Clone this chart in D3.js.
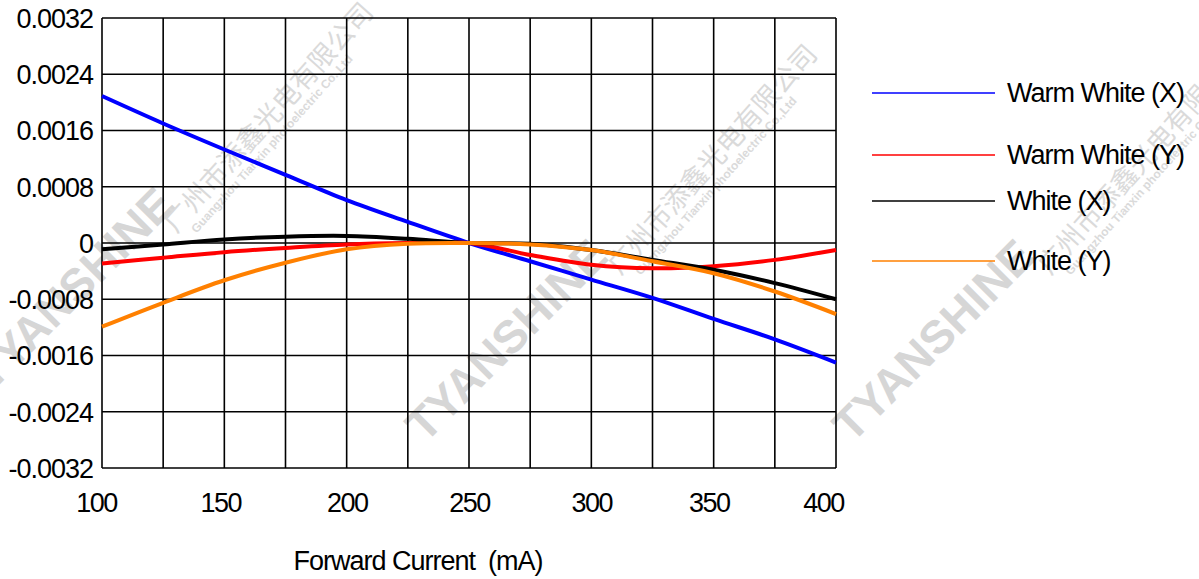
<!DOCTYPE html>
<html>
<head>
<meta charset="utf-8">
<script src="https://cdn.jsdelivr.net/npm/d3@7"></script>
<style>
  body { margin: 0; background: #fff; }
  text { font-family: "Liberation Sans", Arial, sans-serif; }
</style>
</head>
<body>
<div id="my_dataviz"></div>
<script>
// forward current (mA)
var currents = [100, 125, 150, 175, 200, 225, 250, 275, 300, 325, 350, 375, 400];
var xTicks = [100, 150, 200, 250, 300, 350, 400];
var yTicks = [0.0032, 0.0024, 0.0016, 0.0008, 0, -0.0008, -0.0016, -0.0024, -0.0032];
var yTickLabels = ["0.0032", "0.0024", "0.0016", "0.0008", "0", "-0.0008", "-0.0016", "-0.0024", "-0.0032"];

var warmWhiteX = [0.00209, 0.00170, 0.00133, 0.00097, 0.00061, 0.00030, 0, -0.00026, -0.00052, -0.00078, -0.00108, -0.00137, -0.00170];
var warmWhiteY = [-0.00029, -0.00021, -0.00013, -0.00007, -0.00002, 0.00000, 0, -0.00017, -0.00031, -0.00036, -0.00033, -0.00024, -0.00010];
var whiteX = [-0.00009, -0.00002, 0.00005, 0.00009, 0.00010, 0.00006, 0, -0.00001, -0.00010, -0.00024, -0.00038, -0.00057, -0.00080];
var whiteY = [-0.00119, -0.00085, -0.00053, -0.00028, -0.00009, -0.00001, 0, -0.00002, -0.00010, -0.00026, -0.00043, -0.00069, -0.00101];

var seriesNames = ["Warm White (X)", "Warm White (Y)", "White (X)", "White (Y)"];
var seriesColors = ["#0000ff", "#ff0000", "#000000", "#ff8000"];
var seriesValues = [warmWhiteX, warmWhiteY, whiteX, whiteY];
// legend rows (pixel y) as in the original
var legendY = [93, 155, 201, 261];
// small horizontal nudges of the x labels, as in the original
var xLabelShift = [-6, -4, 0, 0, 0, -5, -13];

var W = 1199, H = 579;
var plotLeft = 102, plotRight = 836, plotTop = 18, plotBottom = 468;

var svg = d3.select("#my_dataviz")
  .append("svg")
    .attr("width", W)
    .attr("height", H);

// watermarks (behind everything)
var wm = svg.append("g").attr("fill", "#d6d6d6");
[[ -8, 392], [425, 444], [852, 444]].forEach(function(p) {
  wm.append("text")
    .attr("transform", "translate(" + p[0] + "," + p[1] + ") rotate(-45)")
    .style("font-size", "46px")
    .style("font-weight", "bold")
    .text("TYANSHINE");
});
[[176, 234], [620, 276], [1050, 276]].forEach(function(p) {
  var g = wm.append("g")
    .attr("transform", "translate(" + p[0] + "," + p[1] + ") rotate(-48)");
  g.append("text")
    .style("font-family", "'Noto Sans CJK SC'")
    .style("font-size", "27px")
    .attr("fill", "#dadada")
    .text("广州市添鑫光电有限公司");
  g.append("text")
    .attr("x", 14)
    .attr("y", 15)
    .style("font-size", "12px")
    .style("font-weight", "bold")
    .attr("fill", "#dadada")
    .text("Guangzhou Tianxin photoelectric Co.,Ltd");
});

var x = d3.scaleLinear().domain([100, 400]).range([plotLeft, plotRight]);
var y = d3.scaleLinear().domain([-0.0032, 0.0032]).range([plotBottom, plotTop]);

// grid
var grid = svg.append("g").attr("stroke", "#000").attr("stroke-width", 1.6);
grid.selectAll("line.v")
  .data(currents)
  .enter()
  .append("line")
    .attr("x1", function(d) { return x(d); })
    .attr("x2", function(d) { return x(d); })
    .attr("y1", plotTop)
    .attr("y2", plotBottom);
grid.selectAll("line.h")
  .data(yTicks)
  .enter()
  .append("line")
    .attr("x1", plotLeft)
    .attr("x2", plotRight)
    .attr("y1", function(d) { return y(d); })
    .attr("y2", function(d) { return y(d); });

// Y axis labels
svg.append("g")
  .attr("transform", "translate(" + (plotLeft - 9) + ",0)")
  .call(d3.axisLeft(y).tickValues(yTicks).tickSize(0)
        .tickFormat(function(d, i) { return yTickLabels[i]; }))
  .call(function(g) { g.select(".domain").remove(); })
  .selectAll("text")
    .attr("x", 0)
    .attr("dy", "0.35em")
    .attr("font-family", null)
    .attr("font-size", null)
    .style("font-size", "27px")
    .style("letter-spacing", "-1px")
    .attr("fill", "#000");

// X axis labels
svg.append("g")
  .attr("transform", "translate(0," + plotBottom + ")")
  .call(d3.axisBottom(x).tickValues(xTicks).tickSize(0).tickFormat(d3.format("d")))
  .call(function(g) { g.select(".domain").remove(); })
  .selectAll("text")
    .attr("x", function(d, i) { return xLabelShift[i]; })
    .attr("y", 35)
    .attr("dy", "0.35em")
    .attr("font-family", null)
    .attr("font-size", null)
    .style("font-size", "27px")
    .style("letter-spacing", "-1.5px")
    .attr("fill", "#000");

// X axis title
svg.append("text")
  .attr("x", 418)
  .attr("y", 570)
  .attr("text-anchor", "middle")
  .style("font-size", "27px")
  .style("letter-spacing", "-1px")
  .style("white-space", "pre")
  .text("Forward Current  (mA)");

// curves
var line = d3.line()
  .x(function(d, i) { return x(currents[i]); })
  .y(function(d) { return y(d); })
  .curve(d3.curveCatmullRom.alpha(0.5));

svg.selectAll("path.series")
  .data(seriesValues)
  .enter()
  .append("path")
    .attr("class", "series")
    .attr("fill", "none")
    .attr("stroke", function(d, i) { return seriesColors[i]; })
    .attr("stroke-width", 4)
    .attr("d", line);

// legend
var legend = svg.selectAll("g.legend")
  .data(seriesNames)
  .enter()
  .append("g")
    .attr("class", "legend")
    .attr("transform", function(d, i) { return "translate(0," + legendY[i] + ")"; });
legend.append("line")
  .attr("x1", 872)
  .attr("x2", 995)
  .attr("stroke", function(d, i) { return seriesColors[i]; })
  .attr("stroke-width", 1.6);
legend.append("text")
  .attr("x", 1007)
  .attr("dy", "0.35em")
  .style("font-size", "27px")
  .style("letter-spacing", "-1px")
  .text(function(d) { return d; });
</script>
</body>
</html>
